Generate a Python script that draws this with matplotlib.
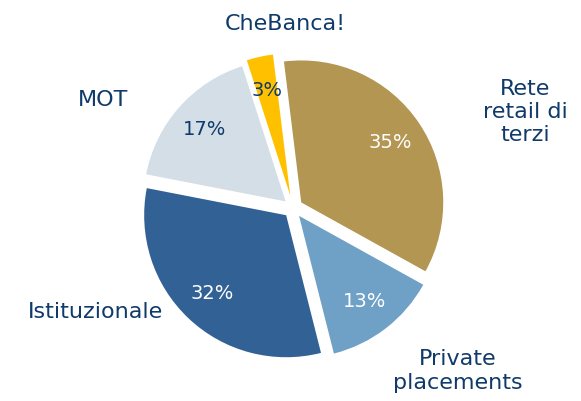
import matplotlib
matplotlib.use("Agg")
import matplotlib.pyplot as plt

categorie = ["Rete\nretail di\nterzi", "Private\nplacements", "Istituzionale", "MOT", "CheBanca!"]
quote = [35, 13, 32, 17, 3]
colori = ["#B39651", "#6FA0C6", "#326295", "#D3DEE7", "#FFC000"]
colori_pct = ["white", "white", "white", "#0F3A6A", "#0F3A6A"]
blu = "#0F3A6A"

W, H = 581, 401
fig = plt.figure(figsize=(W / 100, H / 100), dpi=100)
ax = fig.add_axes([0, 0, 1, 1])

r = 142.0
cx, cy = 293, 401 - 208

wedges, testi, pct = ax.pie(
    quote,
    colors=colori,
    startangle=97,
    counterclock=False,
    explode=[0.07, 0.07, 0.07, 0.07, 0.09],
    autopct="%d%%",
    pctdistance=0.76,
    radius=1,
    center=(0, 0),
    wedgeprops=dict(linewidth=0),
    textprops=dict(fontsize=14),
)
for t, c in zip(pct, colori_pct):
    t.set_color(c)

ax.set_xlim(-cx / r, (W - cx) / r)
ax.set_ylim(-cy / r, (H - cy) / r)
ax.set_aspect("auto")
ax.axis("off")

# etichette delle categorie (posizione in pixel dall'alto)
pos = [(525, 112), (458, 371), (95, 312), (103, 100), (285, 24)]
for nome, (px, py) in zip(categorie, pos):
    ax.text((px - cx) / r, (401 - py - cy) / r, nome, color=blu, fontsize=16,
            ha="center", va="center", linespacing=1.2)

fig.savefig("out.png", dpi=100)
